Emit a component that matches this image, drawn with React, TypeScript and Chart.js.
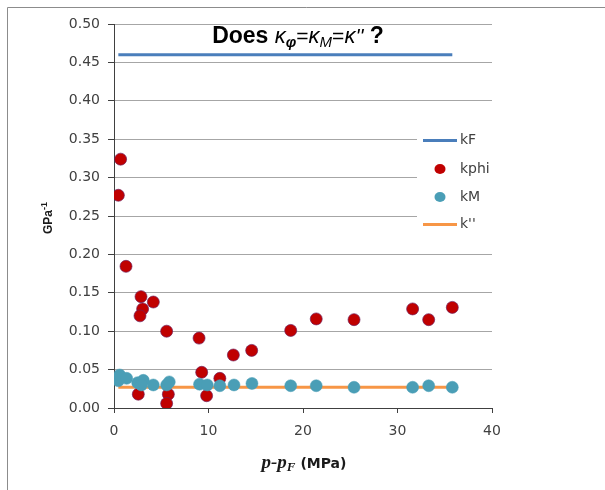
import React, { useEffect, useRef } from "react";
import { Chart, registerables } from "chart.js";

Chart.register(...registerables);

const kFLine = [
  { x: 0.46, y: 0.46 },
  { x: 35.8, y: 0.46 },
];
const kphiX = [0.46, 0.7, 1.27, 2.86, 4.16, 3.03, 2.75, 5.57, 9.0, 12.63, 14.57, 18.7, 21.4, 25.4, 31.6, 33.3, 35.8, 9.28, 11.2, 2.57, 5.75, 5.57, 9.8];
const kphiY = [0.277, 0.324, 0.1845, 0.145, 0.138, 0.129, 0.12, 0.1, 0.091, 0.069, 0.075, 0.101, 0.116, 0.115, 0.129, 0.115, 0.131, 0.0465, 0.0386, 0.018, 0.018, 0.006, 0.016];
const kMX = [0.46, 0.6, 1.34, 2.5, 3.1, 2.9, 4.16, 5.57, 5.85, 9.05, 9.87, 11.2, 12.7, 14.6, 18.7, 21.4, 25.4, 31.6, 33.3, 35.8];
const kMY = [0.0355, 0.043, 0.0386, 0.033, 0.036, 0.03, 0.03, 0.03, 0.034, 0.031, 0.03, 0.029, 0.03, 0.032, 0.029, 0.029, 0.027, 0.027, 0.029, 0.027];
const kppLine = [
  { x: 0.46, y: 0.027 },
  { x: 35.8, y: 0.027 },
];
const seriesNames = ["kF", "kphi", "kM", "k''"];

const BLUE = "#4A7EBB";
const RED = "#C00000";
const TEAL = "#4A9EB6";
const ORANGE = "#F79646";
const TXT = "#404040";

const decorPlugin = {
  id: "decor",
  afterDraw(chart: any) {
    const ctx: CanvasRenderingContext2D = chart.ctx;
    ctx.save();
    // outer frame
    ctx.strokeStyle = "#8c8c8c";
    ctx.lineWidth = 1;
    ctx.beginPath();
    ctx.moveTo(7.5, 490);
    ctx.lineTo(7.5, 7.5);
    ctx.lineTo(605, 7.5);
    ctx.stroke();

    // legend
    ctx.fillStyle = "#ffffff";
    ctx.fillRect(417, 126, 80, 112);
    ctx.font = "14px 'DejaVu Sans'";
    ctx.textBaseline = "middle";
    ctx.textAlign = "left";
    const rows = [140.5, 169, 197, 224.5];
    ctx.strokeStyle = BLUE;
    ctx.lineWidth = 3;
    ctx.beginPath();
    ctx.moveTo(423, rows[0]);
    ctx.lineTo(457, rows[0]);
    ctx.stroke();
    ctx.fillStyle = RED;
    ctx.beginPath();
    ctx.ellipse(440, rows[1], 5.5, 5, 0, 0, Math.PI * 2);
    ctx.fill();
    ctx.fillStyle = TEAL;
    ctx.beginPath();
    ctx.ellipse(440, rows[2], 5.5, 5, 0, 0, Math.PI * 2);
    ctx.fill();
    ctx.strokeStyle = ORANGE;
    ctx.beginPath();
    ctx.moveTo(423, rows[3]);
    ctx.lineTo(457, rows[3]);
    ctx.stroke();
    ctx.fillStyle = TXT;
    seriesNames.forEach((n, i) => ctx.fillText(n, 460, rows[i]));

    const drawSegs = (list: { t: string; f: string; dy: number }[], cx: number, base: number, color: string) => {
      let w = 0;
      list.forEach((s) => {
        ctx.font = s.f;
        w += ctx.measureText(s.t).width;
      });
      let x = cx - w / 2;
      ctx.fillStyle = color;
      ctx.textAlign = "left";
      ctx.textBaseline = "alphabetic";
      list.forEach((s) => {
        ctx.font = s.f;
        ctx.fillText(s.t, x, base + s.dy);
        x += ctx.measureText(s.t).width;
      });
    };

    // title
    drawSegs(
      [
        { t: "Does ", f: "bold 23px 'Liberation Sans'", dy: 0 },
        { t: "κ", f: "italic 22px 'Liberation Sans'", dy: 0 },
        { t: "φ", f: "bold italic 15px 'Liberation Sans'", dy: 4 },
        { t: "=", f: "21px 'Liberation Sans'", dy: 0 },
        { t: "κ", f: "italic 22px 'Liberation Sans'", dy: 0 },
        { t: "M", f: "italic 15px 'Liberation Sans'", dy: 4 },
        { t: "=", f: "21px 'Liberation Sans'", dy: 0 },
        { t: "κ", f: "italic 22px 'Liberation Sans'", dy: 0 },
        { t: "''", f: "italic 21px 'Liberation Sans'", dy: 0 },
        { t: " ?", f: "bold 23px 'Liberation Sans'", dy: 0 },
      ],
      298,
      43,
      "#000000"
    );

    // x title
    drawSegs(
      [
        { t: "p-p", f: "bold italic 19px 'Liberation Serif'", dy: 0 },
        { t: "F", f: "bold italic 13px 'Liberation Serif'", dy: 3 },
        { t: " (MPa)", f: "bold 14px 'DejaVu Sans'", dy: 0 },
      ],
      304,
      468,
      "#1a1a1a"
    );

    // y title
    ctx.save();
    ctx.translate(52, 218);
    ctx.rotate(-Math.PI / 2);
    drawSegs(
      [
        { t: "GPa", f: "bold 12px 'Liberation Sans'", dy: 0 },
        { t: "-1", f: "bold 9px 'Liberation Sans'", dy: -5 },
      ],
      0,
      0,
      "#1a1a1a"
    );
    ctx.restore();
    ctx.restore();
  },
};

export default function App() {
  const ref = useRef<HTMLCanvasElement | null>(null);
  useEffect(() => {
    if (!ref.current) return;
    const chart = new Chart(ref.current, {
      type: "scatter",
      data: {
        datasets: [
          {
            label: seriesNames[0],
            data: kFLine,
            showLine: true,
            borderColor: BLUE,
            borderWidth: 3,
            pointRadius: 0,
            order: 4,
          },
          {
            label: seriesNames[1],
            data: kphiX.map((x, i) => ({ x, y: kphiY[i] })),
            backgroundColor: RED,
            borderColor: "rgba(110,30,90,0.85)",
            borderWidth: 0.8,
            pointRadius: 6,
            order: 2,
          },
          {
            label: seriesNames[2],
            data: kMX.map((x, i) => ({ x, y: kMY[i] })),
            backgroundColor: TEAL,
            borderColor: TEAL,
            borderWidth: 0.5,
            pointRadius: 6,
            order: 1,
          },
          {
            label: seriesNames[3],
            data: kppLine,
            showLine: true,
            borderColor: ORANGE,
            borderWidth: 3,
            pointRadius: 0,
            order: 3,
          },
        ],
      },
      options: {
        animation: false,
        responsive: false,
        maintainAspectRatio: false,
        layout: { padding: { left: 0, top: 24, right: 113, bottom: 0 } },
        plugins: {
          legend: { display: false },
          tooltip: { enabled: false },
          title: { display: false },
        },
        scales: {
          x: {
            type: "linear",
            min: 0,
            max: 40,
            afterFit: (s: any) => {
              s.height = 82;
            },
            ticks: {
              stepSize: 10,
              color: TXT,
              font: { family: "'DejaVu Sans'", size: 14 },
              padding: 10,
              maxRotation: 0,
            },
            grid: {
              drawOnChartArea: false,
              drawTicks: true,
              tickLength: 5,
              tickColor: TXT,
            },
            border: { color: TXT, width: 1 },
          },
          y: {
            type: "linear",
            min: 0,
            max: 0.5,
            afterFit: (s: any) => {
              s.width = 114;
            },
            ticks: {
              stepSize: 0.05,
              color: TXT,
              font: { family: "'DejaVu Sans'", size: 14 },
              padding: 8,
              callback: (v: any) => Number(v).toFixed(2),
            },
            grid: {
              color: "#a6a6a6",
              lineWidth: 1,
              drawTicks: true,
              tickLength: 6,
              tickColor: TXT,
            },
            border: { color: TXT, width: 1 },
          },
        },
      },
      plugins: [decorPlugin],
    });
    return () => chart.destroy();
  }, []);
  return (
    <canvas
      ref={ref}
      width={605}
      height={490}
      style={{ position: "fixed", left: 0, top: 0, width: 605, height: 490, background: "#fff" }}
    />
  );
}
